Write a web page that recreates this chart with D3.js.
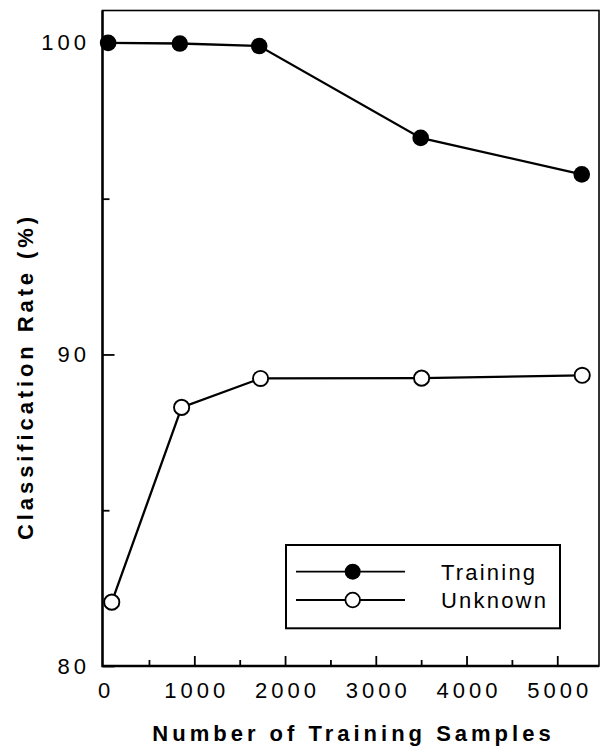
<!DOCTYPE html>
<html>
<head>
<meta charset="utf-8">
<script src="https://cdn.jsdelivr.net/npm/d3@7"></script>
<style>
  html, body { margin: 0; padding: 0; background: #fff; }
  svg { display: block; font-family: "Liberation Sans", Arial, Helvetica, sans-serif; }
</style>
</head>
<body>
<svg width="604" height="749"></svg>
<script>
// ---- Data
const trainingX = [50, 840, 1715, 3495, 5270];
const trainingY = [100.0, 99.98, 99.9, 96.95, 95.78];
const unknownX = [90, 860, 1730, 3505, 5275];
const unknownY = [82.05, 88.3, 89.23, 89.24, 89.33];

const seriesNames = ['Training', 'Unknown'];
const xMajorTicks = [0, 1000, 2000, 3000, 4000, 5000];
const xMinorTicks = [500, 1500, 2500, 3500, 4500];
const yMajorTicks = [80, 90, 100];
const yMinorTicks = [85, 95];
const xTitle = 'Number of Training Samples';
const yTitle = 'Classification Rate (%)';

const series = [
    { name: seriesNames[0], filled: true, points: trainingX.map((x, i) => ({ x, y: trainingY[i] })) },
    { name: seriesNames[1], filled: false, points: unknownX.map((x, i) => ({ x, y: unknownY[i] })) }
];

const svg = d3.select('svg');
const margens = { left: 102.5, right: 5, top: 10.5, bottom: 83 };
const width = 604 - margens.left - margens.right;
const height = 749 - margens.top - margens.bottom;

const x = d3.scaleLinear().domain([-12, 5460]).range([0, width]);
const y = d3.scaleLinear().domain([80, 101.04]).range([height, 0]);

const g = svg.append('g')
    .attr('transform', `translate(${margens.left}, ${margens.top})`);

const LS = 4; // letter spacing of tick labels

// ---- Axes (ticks point inward)
const xAxis = g.append('g')
    .attr('transform', `translate(0, ${height})`)
    .call(d3.axisBottom(x).tickValues(xMajorTicks).tickFormat(d3.format('d'))
        .tickSizeInner(-10).tickSizeOuter(0).tickPadding(16));
g.append('g')
    .attr('transform', `translate(0, ${height})`)
    .call(d3.axisBottom(x).tickValues(xMinorTicks).tickSizeInner(-6).tickSizeOuter(0).tickFormat(''));

const yAxis = g.append('g')
    .call(d3.axisLeft(y).tickValues(yMajorTicks).tickFormat(d3.format('d'))
        .tickSizeInner(-12).tickSizeOuter(0).tickPadding(16.5 - LS));
g.append('g')
    .call(d3.axisLeft(y).tickValues(yMinorTicks).tickSizeInner(-7).tickSizeOuter(0).tickFormat(''));

g.selectAll('.domain').remove();
g.selectAll('.tick line').attr('stroke', '#000').attr('stroke-width', 1.8);
g.selectAll('.tick text')
    .attr('fill', '#000')
    .style('font-size', '22px')
    .style('letter-spacing', LS + 'px');
xAxis.selectAll('.tick text').attr('dx', LS / 2);
xAxis.selectAll('.tick').filter(d => d === 0).select('line').remove();

// ---- Frame
g.append('rect')
    .attr('width', width)
    .attr('height', height)
    .attr('fill', 'none')
    .attr('stroke', '#000')
    .attr('stroke-width', 1.6);
g.append('path')
    .attr('d', `M0,0V${height}H${width}`)
    .attr('fill', 'none')
    .attr('stroke', '#000')
    .attr('stroke-width', 2.4);

// ---- Lines and markers
const line = d3.line().x(d => x(d.x)).y(d => y(d.y));

series.forEach(s => {
    g.append('path')
        .datum(s.points)
        .attr('d', line)
        .attr('fill', 'none')
        .attr('stroke', '#000')
        .attr('stroke-width', 2.3);

    g.selectAll(null)
        .data(s.points)
        .join('circle')
        .attr('cx', d => x(d.x))
        .attr('cy', d => y(d.y))
        .attr('r', s.filled ? 8.3 : 7.6)
        .attr('fill', s.filled ? '#000' : '#fff')
        .attr('stroke', '#000')
        .attr('stroke-width', s.filled ? 0 : 1.9);
});

// ---- Axis titles
svg.append('text')
    .attr('x', 351.5 + 2)
    .attr('y', 741)
    .attr('text-anchor', 'middle')
    .style('font-size', '22px')
    .style('font-weight', 'bold')
    .style('letter-spacing', '4px')
    .text(xTitle);

svg.append('text')
    .attr('transform', 'translate(33, 378.5) rotate(-90)')
    .attr('x', 2)
    .attr('text-anchor', 'middle')
    .style('font-size', '22px')
    .style('font-weight', 'bold')
    .style('letter-spacing', '3.9px')
    .text(yTitle);

// ---- Legend
const legend = svg.append('g');
legend.append('rect')
    .attr('x', 286)
    .attr('y', 545)
    .attr('width', 274)
    .attr('height', 83.3)
    .attr('fill', '#fff')
    .attr('stroke', '#000')
    .attr('stroke-width', 2);

const rows = legend.selectAll('.row')
    .data(series)
    .join('g')
    .attr('class', 'row')
    .attr('transform', (d, i) => `translate(0, ${571.7 + i * 28.3})`);

rows.append('line')
    .attr('x1', 296)
    .attr('x2', 405)
    .attr('stroke', '#000')
    .attr('stroke-width', 1.8);
rows.append('circle')
    .attr('cx', 352.7)
    .attr('r', d => d.filled ? 8 : 7.3)
    .attr('fill', d => d.filled ? '#000' : '#fff')
    .attr('stroke', '#000')
    .attr('stroke-width', d => d.filled ? 0 : 1.8);
rows.append('text')
    .attr('x', 441)
    .attr('y', 7.8)
    .style('font-size', '22px')
    .style('letter-spacing', '2.2px')
    .text(d => d.name);
</script>
</body>
</html>
